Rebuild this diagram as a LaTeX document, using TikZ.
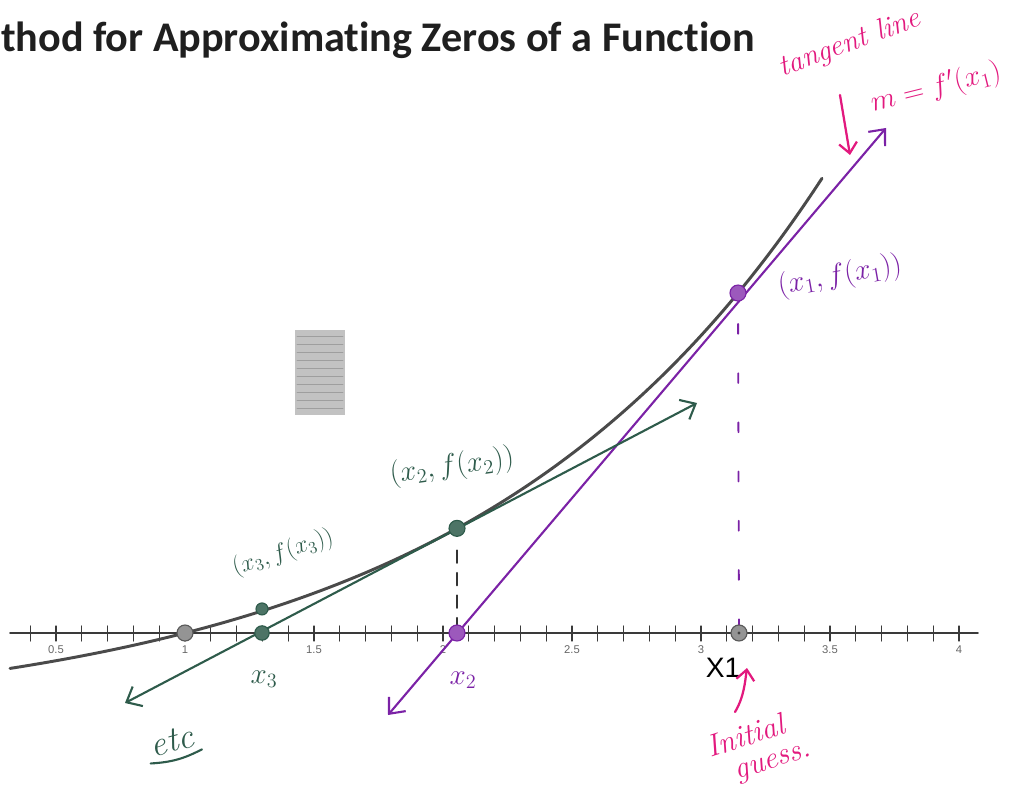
\documentclass[tikz,border=0pt]{standalone}
\usepackage{amsmath}
\usepackage{fontspec}
\newfontfamily\titlefont[Ligatures=NoCommon]{Carlito}
\newfontfamily\plotfont{Liberation Sans}
\usepackage{tikz}
\usetikzlibrary{
  arrows.meta,
  calc,
  positioning
}
\definecolor{NwtGreen}{HTML}{2E5B4B}
\definecolor{NwtPurple}{HTML}{7B22A6}
\definecolor{NwtPink}{HTML}{E2197E}
\definecolor{NwtCurve}{HTML}{4A4A4A}
\definecolor{NwtAxis}{HTML}{3A3A3A}
\colorlet{NwtPatch}{black!24}
\tikzset{
  every picture/.style = {line join=round, line cap=round},
  PenBarb/.tip = {Straight Barb[length=3.2mm,width=5.5mm]},
  curve/.style = {draw=NwtCurve, line width=2.1pt},
  axis line/.style = {draw=NwtAxis, line width=1.1pt},
  tick mark/.style = {draw=NwtAxis, line width=0.8pt},
  tick label/.style = {
    font=\plotfont\fontsize{8}{9}\selectfont,
    text=black!60,
    anchor=north,
    inner sep=0pt
  },
  tangent green/.style = {draw=NwtGreen, line width=1.5pt, PenBarb-PenBarb},
  tangent purple/.style = {draw=NwtPurple, line width=1.5pt, PenBarb-PenBarb},
  drop black/.style = {draw=black!80, line width=1.3pt, dash pattern=on 9pt off 7pt},
  drop purple/.style = {draw=NwtPurple, line width=1.3pt, dash pattern=on 7pt off 28pt, dash phase=-22pt},
  pink arrow/.style = {draw=NwtPink, line width=1.6pt, -{Straight Barb[length=2.6mm,width=4.5mm]}},
  dot/.style = {circle, inner sep=0pt, minimum size=4mm, line width=0.8pt},
  dot gray/.style = {dot, draw=black!65, fill=black!42},
  dot green/.style = {dot, draw=NwtGreen, fill=NwtGreen!85},
  dot purple/.style = {dot, draw=NwtPurple, fill=NwtPurple!75},
  hand/.style = {font=\fontsize{20}{22}\selectfont, inner sep=1pt},
  hand green/.style = {hand, text=NwtGreen},
  hand purple/.style = {hand, text=NwtPurple},
  hand pink/.style = {hand, text=NwtPink},
}

\begin{document}
\begin{tikzpicture}[x=0.025cm, y=-0.025cm,
  declare function={fy(\u)=633-91.3*(exp(0.0028*(\u-185))-1);}]
  \useasboundingbox (0,0) rectangle (1013,786);
  \clip (0,0) rectangle (1013,786);

  % title, cut at the left edge
  \node[font=\titlefont\bfseries\fontsize{30}{34}\selectfont, anchor=base east, inner sep=0pt, text=black!88]
    (title) at (755,52) {Method for Approximating Zeros of a Function};

  % scanned patch
  \fill[NwtPatch] (295,330) rectangle (345,415);
  \foreach \yy in {336,344,...,410} {
    \draw[black!38, line width=0.6pt] (297,\yy) -- (343,\yy);
  }

  % axis
  \coordinate (axL) at (10,633);
  \coordinate (axR) at (978,633);
  \draw[axis line] (axL) -- (axR);
  \foreach \i in {4,...,40} {
    \draw[tick mark] ({185+25.8*(\i-10)},626) -- ++(0,15);
  }
  \foreach \t in {0.5,1,1.5,2,2.5,3,3.5,4} {
    \node[tick label] at ({185+258*(\t-1)},645) {\t};
  }

  % function
  \draw[curve] plot[domain=10:822, samples=90, smooth] (\x,{fy(\x)});

  % points on the axis and on the curve
  \coordinate (X0) at (185,633);
  \coordinate (X1) at (739,633);
  \coordinate (X2) at (457,633);
  \coordinate (X3) at (262,633);
  \coordinate (P1) at (738,{fy(738)});
  \coordinate (P2) at (457,{fy(457)});
  \coordinate (P3) at (262,{fy(262)});

  % tangent lines
  \coordinate (t1a) at (388,715);
  \coordinate (t1b) at (886,128);
  \coordinate (t2a) at (125,703);
  \coordinate (t2b) at (697,403);
  \draw[tangent purple] (t1a) -- (t1b);
  \draw[tangent green] (t2a) -- (t2b);

  \draw[drop purple] (P1) -- (X1);
  \draw[drop black] ($(P2)+(0,22)$) -- (X2);

  \node[dot gray] (d0) at (X0) {};
  \node[dot gray] (d1) at (X1) {};
  \fill[black!75] (d1.center) circle[radius=1.2pt];
  \node[dot purple] (d2) at (X2) {};
  \node[dot green, minimum size=3.6mm] (d3) at (X3) {};
  \node[dot purple] (c1) at (P1) {};
  \node[dot green] (c2) at (P2) {};
  \node[dot green, minimum size=3mm] (c3) at ($(P3)+(0,-2)$) {};

  % labels
  \node[hand pink, rotate=20, font=\fontsize{21}{23}\selectfont] (tl) at (850,44) {\textit{tangent line}};
  \node[hand pink, rotate=14, font=\fontsize{21}{23}\selectfont] (slope) at (936,88) {$m=f'(x_1)$};
  \coordinate (tlA) at (840,95);
  \coordinate (tlB) at (850,155);
  \draw[pink arrow] (tlA) -- (tlB);

  \node[hand purple, rotate=10] (lp1) at (840,276) {$(x_1,f(x_1))$};
  \node[hand green, rotate=8] (lp2) at (452,467) {$(x_2,f(x_2))$};
  \node[hand green, rotate=18, font=\fontsize{18}{20}\selectfont] (lp3) at (283,553) {$(x_3,f(x_3))$};

  \node[hand green, font=\fontsize{22}{24}\selectfont] (lx3) at (264,679) {$x_3$};
  \node[hand purple, font=\fontsize{22}{24}\selectfont] (lx2) at (463,680) {$x_2$};
  \node[font=\plotfont\fontsize{20}{22}\selectfont, inner sep=0pt] (lx1) at (723,668) {X1};

  \coordinate (gA) at (735,712);
  \coordinate (gB) at (747,668);
  \draw[pink arrow] (gA) .. controls (744,697) and (745,682) .. (gB);
  \node[hand pink, rotate=18, font=\fontsize{22}{24}\selectfont] (init) at (746,735) {\textit{Initial}};
  \node[hand pink, rotate=18, font=\fontsize{22}{24}\selectfont] (guess) at (774,764) {\textit{guess.}};

  \node[hand green, rotate=15, font=\fontsize{25}{27}\selectfont] (etc) at (172,741) {\textit{etc}};
  \draw[draw=NwtGreen, line width=1.5pt] ($(etc.south west)+(-2,4)$) to[bend right=12] ($(etc.south east)+(4,2)$);
\end{tikzpicture}
\end{document}
